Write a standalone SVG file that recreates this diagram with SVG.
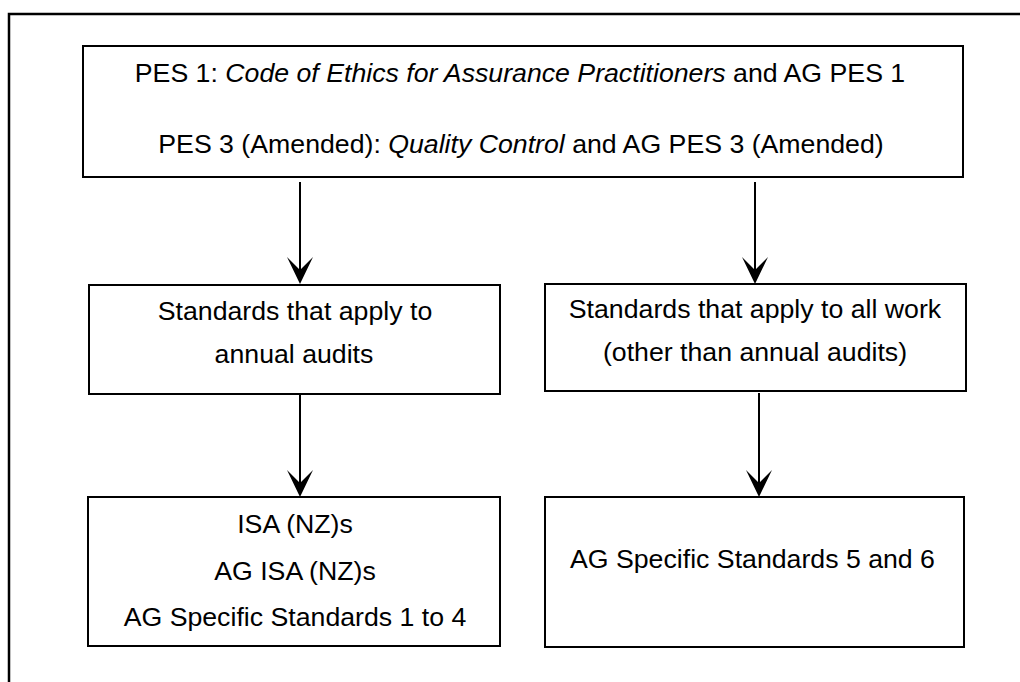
<svg xmlns="http://www.w3.org/2000/svg" width="1020" height="682" viewBox="0 0 1020 682">
<style>
.box{fill:#fff;stroke:#000;stroke-width:2}
.t{font-family:"Liberation Sans",Arial,sans-serif;font-size:26.7px;fill:#000;text-anchor:middle}
.l{text-anchor:start}
.c{stroke:#000;stroke-width:2;fill:none}
.h{fill:#000}
</style>
<rect width="1020" height="682" fill="#fff"/>
<path d="M9,683 V14 H1021" fill="none" stroke="#000" stroke-width="2.5"/>
<g id="top">
<rect class="box" x="83" y="46" width="880" height="131"/>
<text class="t" x="520" y="82">PES 1: <tspan font-style="italic">Code of Ethics for Assurance Practitioners</tspan> and AG PES 1</text>
<text class="t" x="521" y="153">PES 3 (Amended): <tspan font-style="italic">Quality Control</tspan> and AG PES 3 (Amended)</text>
</g>
<g id="midLeft">
<rect class="box" x="89" y="285" width="411" height="109"/>
<text class="t" x="295" y="320">Standards that apply to</text>
<text class="t" x="294" y="363">annual audits</text>
</g>
<g id="midRight">
<rect class="box" x="545" y="284" width="421" height="107"/>
<text class="t" x="755" y="318">Standards that apply to all work</text>
<text class="t" x="755" y="361">(other than annual audits)</text>
</g>
<g id="botLeft">
<rect class="box" x="88" y="497" width="412" height="149"/>
<text class="t" x="295" y="533">ISA (NZ)s</text>
<text class="t" x="295" y="580">AG ISA (NZ)s</text>
<text class="t" x="295" y="626">AG Specific Standards 1 to 4</text>
</g>
<g id="botRight">
<rect class="box" x="545" y="497" width="419" height="150"/>
<text class="t l" x="570" y="568">AG Specific Standards 5 and 6</text>
</g>
<g id="connectors">
<line class="c" x1="300" y1="182" x2="300" y2="270"/>
<polygon class="h" points="300,284 287,257 300,270 313,257"/>
<line class="c" x1="755" y1="182" x2="755" y2="270"/>
<polygon class="h" points="755,284 742,257 755,270 768,257"/>
<line class="c" x1="300" y1="395" x2="300" y2="483"/>
<polygon class="h" points="300,497 287,470 300,483 313,470"/>
<line class="c" x1="759" y1="393" x2="759" y2="483"/>
<polygon class="h" points="759,497 746,470 759,483 772,470"/>
</g>
</svg>
